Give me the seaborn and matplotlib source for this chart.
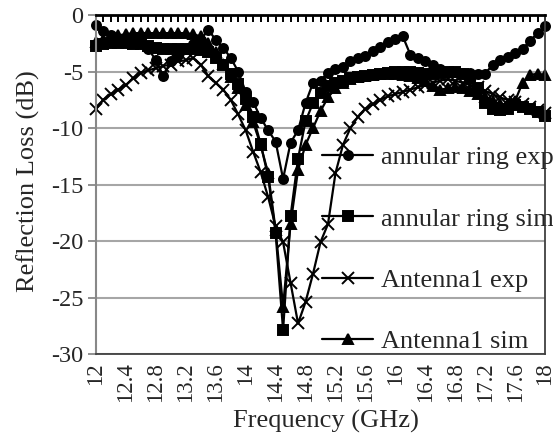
import matplotlib
matplotlib.use("Agg")
import matplotlib.pyplot as plt
import seaborn as sns
import pandas as pd

freq = [12.0, 12.1, 12.2, 12.3, 12.4, 12.5, 12.6, 12.7, 12.8, 12.9,
        13.0, 13.1, 13.2, 13.3, 13.4, 13.5, 13.6, 13.7, 13.8, 13.9,
        14.0, 14.1, 14.2, 14.3, 14.4, 14.5, 14.6, 14.7, 14.8, 14.9,
        15.0, 15.1, 15.2, 15.3, 15.4, 15.5, 15.6, 15.7, 15.8, 15.9,
        16.0, 16.1, 16.2, 16.3, 16.4, 16.5, 16.6, 16.7, 16.8, 16.9,
        17.0, 17.1, 17.2, 17.3, 17.4, 17.5, 17.6, 17.7, 17.8, 17.9, 18.0]

annular_exp = [-0.9, -1.4, -1.8, -2.1, -2.3, -2.4, -2.5, -3.0, -4.0, -5.4,
               -4.1, -3.5, -3.0, -2.6, -2.2, -1.3, -2.2, -2.9, -3.8, -5.0,
               -6.8, -7.7, -9.1, -10.2, -11.2, -14.5, -11.3, -10.2, -7.8, -6.0,
               -5.8, -5.1, -4.8, -4.6, -4.1, -3.8, -3.6, -3.2, -2.8, -2.4,
               -2.1, -1.9, -3.5, -3.8, -4.1, -4.4, -4.8, -5.0, -5.0, -5.1,
               -5.1, -5.2, -5.2, -4.4, -4.0, -3.7, -3.4, -3.0, -2.3, -1.6, -1.0]

annular_sim = [-2.7, -2.6, -2.5, -2.5, -2.5, -2.6, -2.6, -2.7, -2.9, -3.0,
               -3.0, -3.0, -3.0, -3.0, -3.1, -3.3, -3.8, -4.4, -5.2, -6.1,
               -7.4, -9.0, -11.4, -14.3, -19.3, -27.9, -17.8, -12.7, -9.4, -7.8,
               -6.9, -6.3, -6.0, -5.8, -5.6, -5.5, -5.4, -5.3, -5.2, -5.1,
               -5.0, -5.0, -5.0, -5.1, -5.2, -5.2, -5.1, -5.0, -5.0, -5.2,
               -5.6, -6.5, -7.8, -8.3, -8.4, -8.3, -8.0, -8.1, -8.3, -8.6, -8.9]

antenna1_exp = [-8.3, -7.5, -7.0, -6.6, -6.2, -5.6, -5.1, -4.9, -4.7, -4.5,
                -4.4, -4.1, -4.0, -3.8, -4.4, -5.4, -6.0, -6.6, -7.5, -8.8,
                -10.2, -12.1, -13.9, -16.1, -18.7, -20.1, -23.7, -27.3, -25.4, -22.9,
                -20.1, -18.5, -14.0, -11.5, -10.0, -9.0, -8.3, -7.9, -7.5, -7.2,
                -7.0, -6.8, -6.6, -6.4, -6.2, -6.0, -5.8, -5.7, -5.8, -6.0,
                -6.2, -6.4, -6.7, -7.0, -7.3, -7.5, -7.7, -7.9, -8.1, -8.4, -8.7]

antenna1_sim = [-2.4, -2.2, -2.0, -1.8, -1.7, -1.6, -1.6, -1.6, -1.6, -1.6,
                -1.6, -1.6, -1.6, -1.7, -1.9, -2.5, -3.3, -4.3, -5.5, -6.5,
                -8.0, -9.5, -11.5, -14.0, -19.0, -25.8, -18.5, -13.7, -11.5, -10.0,
                -8.5, -7.3, -6.5, -6.0, -5.7, -5.5, -5.4, -5.3, -5.2, -5.2,
                -5.2, -5.3, -5.4, -5.6, -5.8, -6.3, -6.6, -6.5, -6.4, -6.5,
                -6.7, -7.0, -7.3, -7.6, -7.9, -8.0, -7.6, -6.0, -5.3, -5.2, -5.3]

series_names = ["annular ring exp", "annular ring sim", "Antenna1 exp", "Antenna1 sim"]
series_values = [annular_exp, annular_sim, antenna1_exp, antenna1_sim]
series_markers = ["o", "s", "x", "^"]

x_tick_labels = ["12", "12.4", "12.8", "13.2", "13.6", "14", "14.4", "14.8",
                 "15.2", "15.6", "16", "16.4", "16.8", "17.2", "17.6", "18"]
y_ticks = [0, -5, -10, -15, -20, -25, -30]

sns.set_theme(style="white")
plt.rcParams["font.family"] = ["Liberation Serif", "DejaVu Serif"]
plt.rcParams["axes.unicode_minus"] = False

W, H = 553, 448
L, R, T, B = 96, 545, 15, 354
fig = plt.figure(figsize=(W / 100, H / 100), dpi=100)
ax = fig.add_axes([L / W, 1 - B / H, (R - L) / W, (B - T) / H])

sizes = {"o": 6.5, "s": 6.5, "x": 8.5, "^": 6.5}
for name, vals, mk in zip(series_names, series_values, series_markers):
    df = pd.DataFrame({"freq": freq, "val": vals})
    sns.lineplot(data=df, x="freq", y="val", ax=ax, color="black", marker=mk,
                 markersize=sizes[mk], markeredgecolor="black",
                 markerfacecolor="black", markeredgewidth=1.4,
                 linewidth=1.6, label=name, legend=False, clip_on=False)

ax.set_xlim(12.0, 18.0)
ax.set_ylim(-30, 0)
ax.set_yticks(y_ticks)
ax.set_yticklabels([str(v) for v in y_ticks])

ax.set_xticks(freq)
lab_map = {float(t): t for t in x_tick_labels}
ax.set_xticklabels([lab_map.get(f, "") for f in freq], rotation=90)

ax.tick_params(axis="x", bottom=False, top=True, labelbottom=True, labeltop=False,
               direction="in", length=5, width=1.4, color="black",
               labelsize=16.5, pad=6)
ax.tick_params(axis="y", left=True, direction="out", length=6, width=1.3,
               color="#888888", labelsize=17.5, pad=3)

ax.yaxis.grid(True, color="#A6A6A6", linewidth=1.5)
ax.xaxis.grid(False)
ax.set_axisbelow(True)

ax.spines["top"].set_color("black")
ax.spines["top"].set_linewidth(2.0)
ax.spines["left"].set_color("#888888")
ax.spines["left"].set_linewidth(1.5)
ax.spines["bottom"].set_color("#404040")
ax.spines["bottom"].set_linewidth(1.3)
ax.spines["right"].set_color("#404040")
ax.spines["right"].set_linewidth(1.3)
for s in ax.spines.values():
    s.set_visible(True)

ax.set_xlabel("Frequency (GHz)", fontsize=19)
ax.set_ylabel("Reflection Loss (dB)", fontsize=19)
ax.xaxis.set_label_coords((326 - L) / (R - L), (B - 410) / (B - T))
ax.yaxis.set_label_coords((40 - L) / (R - L), 0.51)

handles, labels = ax.get_legend_handles_labels()
leg = ax.legend(handles, labels, loc="upper left",
                bbox_to_anchor=(322 / W, 1 - 146 / H), bbox_transform=fig.transFigure,
                frameon=False, fontsize=19, handlelength=1.95, handletextpad=0.3,
                labelspacing=1.43, borderaxespad=0, borderpad=0)

fig.savefig("out.png", dpi=100)
